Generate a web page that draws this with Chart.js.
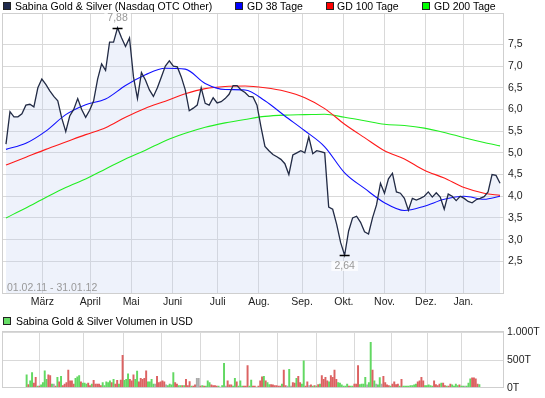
<!DOCTYPE html>
<html><head><meta charset="utf-8">
<script src="https://cdn.jsdelivr.net/npm/chart.js@4"></script>
<style>
body{margin:0;background:#fff;width:545px;height:398px;overflow:hidden;position:relative;font-family:"Liberation Sans",Arial,sans-serif;}
#main{position:absolute;left:0;top:0;}
#vol{position:absolute;left:0;top:322px;}
.lg{position:absolute;font-size:10.5px;color:#000;white-space:nowrap;line-height:12px;}
.sq{position:absolute;width:6px;height:6px;border:1px solid #222;}
#range{position:absolute;left:7px;top:281px;font-size:10.5px;line-height:12px;color:#999;}
</style></head><body>
<canvas id="main" width="545" height="312"></canvas>
<canvas id="vol" width="545" height="76"></canvas>
<div class="sq" style="left:3px;top:2px;background:#1f2a4d"></div>
<div class="lg" style="left:15px;top:0px">Sabina Gold &amp; Silver (Nasdaq OTC Other)</div>
<div class="sq" style="left:235px;top:2px;background:#0000ff"></div>
<div class="lg" style="left:247px;top:0px">GD 38 Tage</div>
<div class="sq" style="left:326px;top:2px;background:#ff0000"></div>
<div class="lg" style="left:337px;top:0px">GD 100 Tage</div>
<div class="sq" style="left:422px;top:2px;background:#00ff00"></div>
<div class="lg" style="left:434px;top:0px">GD 200 Tage</div>
<div id="range">01.02.11 - 31.01.12</div>
<div class="sq" style="left:3px;top:317px;background:#66dd66"></div>
<div class="lg" style="left:16px;top:315px">Sabina Gold &amp; Silver Volumen in USD</div>
<script>
// ---- data ----
const price = [
5.2, 5.95, 5.83, 5.83, 5.9, 6.1, 6.12, 6.06, 6.5, 6.7,
6.58, 6.43, 6.3, 6.2, 5.8, 5.49, 5.85, 6.0, 6.25, 6.0,
5.82, 5.98, 6.2, 6.7, 7.05, 6.9, 7.55, 7.55, 7.88, 7.65,
7.45, 7.65, 6.75, 6.25, 6.85, 6.68, 6.45, 6.3, 6.5, 6.75,
7.0, 7.12, 7.0, 6.98, 6.75, 6.45, 5.97, 6.03, 6.1, 6.5,
6.14, 6.1, 6.27, 6.15, 6.18, 6.25, 6.35, 6.55, 6.55, 6.45,
6.39, 6.3, 6.29, 6.1, 5.6, 5.15, 5.05, 4.96, 4.91, 4.85,
4.75, 4.5, 4.95, 5.0, 5.05, 5.0, 5.37, 4.98, 5.05, 5.03,
5.0, 3.75, 3.7, 3.35, 2.93, 2.64, 3.2, 3.5, 3.54, 3.4,
3.18, 3.13, 3.5, 3.8, 4.3, 4.07, 4.4, 4.53, 4.1, 4.07,
3.95, 3.68, 3.95, 3.91, 3.95, 4.0, 4.1, 3.98, 4.08, 3.98,
3.7, 4.05, 4.0, 3.9, 4.0, 3.95, 3.88, 3.85, 3.92, 3.95,
3.99, 4.1, 4.5, 4.48, 4.3
];
const ma38 = [5.08, 5.22, 5.5, 5.88, 6.11, 6.24, 6.55, 6.8, 6.95, 6.93, 6.6, 6.46, 6.45, 6.2, 5.85, 5.51, 5.14, 4.54, 4.18, 3.85, 3.67, 3.77, 3.93, 4.0, 3.93, 4.0];
const ma100 = [4.72, 4.9, 5.08, 5.25, 5.42, 5.58, 5.82, 6.03, 6.19, 6.36, 6.48, 6.53, 6.54, 6.5, 6.42, 6.27, 6.02, 5.66, 5.35, 5.05, 4.86, 4.6, 4.42, 4.2, 4.07, 4.02];
const ma200 = [3.5, 3.73, 3.97, 4.2, 4.4, 4.63, 4.86, 5.06, 5.28, 5.45, 5.59, 5.69, 5.77, 5.84, 5.87, 5.88, 5.89, 5.82, 5.74, 5.66, 5.63, 5.57, 5.47, 5.35, 5.24, 5.16];
const volume = [
233,56,122,272,83,189,28,28,50,94, 306,150,233,217,67,67,28,189,106,205,
39,67,94,317,122,122,67,167,195,217, 106,83,83,67,83,39,67,133,67,67,
67,39,94,39,106,94,122,94,150,67, 133,67,139,584,133,150,250,150,122,233,
150,300,106,167,150,167,306,106,106,150, 67,67,205,94,106,122,106,50,39,67,
50,272,94,67,39,39,39,39,150,39, 111,28,28,50,167,167,28,39,28,28,
122,94,50,39,39,28,28,11,39,439, 28,122,50,50,28,167,106,28,122,28,
28,28,400,28,139,28,28,11,28, 122,195,205,122,94,
56,56,50,39,39,28,28,67,317,39, 28,333,28,94,83,167,205,94,67,483,
28,106,39,50,28,39,28,56,67,217, 150,189,122,106,217,189,317,150,94,83,
50,28,28,67,28,28,28,67,67,400, 56,67,67,189,50,94,817,317,122,67,
50,183,67,205,94,50,39,28,67,106, 56,67,28,150,28,28,28,28,39,39,
50,67,106,122,189,122,39,39,50,39, 28,122,56,39,67,83,83,39,28,28,
67,50,28,67,39,50,28,28,28,28, 83,161,178,178,161,67,56
];
// one letter per volume bar: u = up day, d = down day, n = unchanged
const volumeDir = [
"uduudduduu","uuddundudu","ddddddduuu","duuudduddd","dduuuuudud",
"dudduuuddd","uuddddduuu","undddddnuu","uudduududd","duddnndudu",
"uuddddunuu","nddduuduuu","ddduuddud","ddudu",
"uddddddudd","nunddudduu","ddndududud","dddudddduu","uuuuduuddd",
"uuuunuudun","uunddddudd","dduduuuuuu","uudddduuuu","udddduddud",
"duuuuduunu","uuddddu"
].join('');
const monthLabels = ['März','April','Mai','Juni','Juli','Aug.','Sep.','Okt.','Nov.','Dez.','Jan.'];
const monthDay = [19.3, 43.3, 63.8, 84.6, 107.3, 128, 149.6, 170.6, 191, 211.8, 230.6];
const priceTicks = [2.5, 3, 3.5, 4, 4.5, 5, 5.5, 6, 6.5, 7, 7.5];
const volTicks = [0, 500, 1000];
const volTickLabels = ['0T', '500T', '1.000T'];
const tradingDays = 251;
const daysPerPriceSample = 2;
const priceSamplesPerMa = 5;
</script>
<script>
const FONT = '"Liberation Sans", Arial, sans-serif';
const GRID = '#d9d9d9';
const dayOf = i => i * daysPerPriceSample + 1;
const pricePts = price.map((v, i) => ({x: dayOf(i), y: v}));
const maPts = arr => arr.map((v, k) => ({x: dayOf(Math.min(k * priceSamplesPerMa, price.length - 1)), y: v}));

const dirChars = volumeDir.split('');
const dirColor = {u: 'rgb(98,216,98)', d: 'rgb(220,98,98)', n: 'rgb(170,170,170)'};

const framePlugin = {
  id: 'frame',
  afterDatasetsDraw(chart) {
    const {ctx, chartArea: a} = chart;
    ctx.save();
    ctx.strokeStyle = '#cfcfcf';
    ctx.lineWidth = 1;
    ctx.strokeRect(Math.round(a.left) - 0.5, Math.round(a.top) - 0.5, Math.round(a.right - a.left) + 1, Math.round(a.bottom - a.top) + 1);
    ctx.restore();
  }
};

const extremesPlugin = {
  id: 'extremes',
  afterDatasetsDraw(chart) {
    const {ctx, scales: {x, y}} = chart;
    const hi = Math.max(...price), lo = Math.min(...price);
    const pts = [[price.indexOf(hi), hi, -1], [price.indexOf(lo), lo, 1]];
    ctx.save();
    ctx.font = '10.5px ' + FONT;
    ctx.textAlign = 'center';
    ctx.textBaseline = 'middle';
    pts.forEach(([i, v, dir]) => {
      const px = x.getPixelForValue(dayOf(i));
      const py = Math.round(y.getPixelForValue(v)) + 0.5;
      const txt = v.toFixed(2).replace('.', ',');
      const ty = py + dir * 10.5;
      const w = ctx.measureText(txt).width + 6;
      ctx.fillStyle = 'rgba(255,255,255,0.75)';
      ctx.fillRect(px - w / 2, ty - 5, w, 10);
      ctx.fillStyle = '#999';
      ctx.fillText(txt, px, ty);
      ctx.strokeStyle = '#000';
      ctx.lineWidth = 1.5;
      ctx.beginPath();
      ctx.moveTo(px - 5, py);
      ctx.lineTo(px + 5, py);
      ctx.stroke();
    });
    ctx.restore();
  }
};

const xAxis = (showLabels, h) => ({
  type: 'linear', min: -0.5, max: tradingDays - 0.5,
  afterBuildTicks: s => { s.ticks = monthDay.map(v => ({value: v})); },
  afterFit: s => { s.height = h; },
  grid: {color: GRID, drawTicks: false},
  border: {display: false},
  ticks: {display: showLabels, autoSkip: false, maxRotation: 0, padding: 3, color: '#222',
    font: {family: FONT, size: 10.5}, callback: (v, i) => monthLabels[i]}
});

new Chart(document.getElementById('main'), {
  type: 'line',
  data: {
    datasets: [
      {data: pricePts, borderColor: '#222b45', borderWidth: 1.3, pointRadius: 0, fill: 'start',
       backgroundColor: 'rgba(195,207,240,0.28)', tension: 0},
      {data: maPts(ma38), borderColor: '#1010ff', borderWidth: 1.1, pointRadius: 0, fill: false, cubicInterpolationMode: 'monotone'},
      {data: maPts(ma100), borderColor: '#ff1a1a', borderWidth: 1.1, pointRadius: 0, fill: false, cubicInterpolationMode: 'monotone'},
      {data: maPts(ma200), borderColor: '#22ee22', borderWidth: 1.1, pointRadius: 0, fill: false, cubicInterpolationMode: 'monotone'}
    ]
  },
  options: {
    responsive: false, animation: false, devicePixelRatio: 1,
    layout: {padding: {left: 3, top: 14, right: 0, bottom: 0}},
    plugins: {legend: {display: false}, tooltip: {enabled: false}, filler: {drawTime: 'beforeDatasetsDraw'}},
    scales: {
      x: xAxis(true, 19),
      y: {
        position: 'right', min: 1.77, max: 8.2,
        afterBuildTicks: s => { s.ticks = priceTicks.map(v => ({value: v})); },
        afterFit: s => { s.width = 42; },
        grid: {color: GRID, drawTicks: false},
        border: {display: false},
        ticks: {autoSkip: false, padding: 5, color: '#222', font: {family: FONT, size: 10.5},
          callback: v => v.toFixed(1).replace('.', ',')}
      }
    }
  },
  plugins: [framePlugin, extremesPlugin]
});

new Chart(document.getElementById('vol'), {
  type: 'bar',
  data: {
    datasets: [{
      data: volume.map((v, j) => ({x: j, y: v})),
      backgroundColor: volume.map((v, j) => dirColor[dirChars[j]] || dirColor.n),
      barThickness: 1.3
    }]
  },
  options: {
    responsive: false, animation: false, devicePixelRatio: 1,
    layout: {padding: {left: 3, top: 8, right: 0, bottom: 0}},
    plugins: {legend: {display: false}, tooltip: {enabled: false}},
    scales: {
      x: xAxis(false, 9),
      y: {
        position: 'right', min: 0, max: 1000,
        afterBuildTicks: s => { s.ticks = volTicks.map(v => ({value: v})); },
        afterFit: s => { s.width = 42; },
        grid: {color: GRID, drawTicks: false},
        border: {display: false},
        ticks: {autoSkip: false, padding: 4, color: '#222', font: {family: FONT, size: 10.5},
          callback: (v, i) => volTickLabels[i]}
      }
    }
  },
  plugins: [framePlugin]
});
</script>
</body></html>
